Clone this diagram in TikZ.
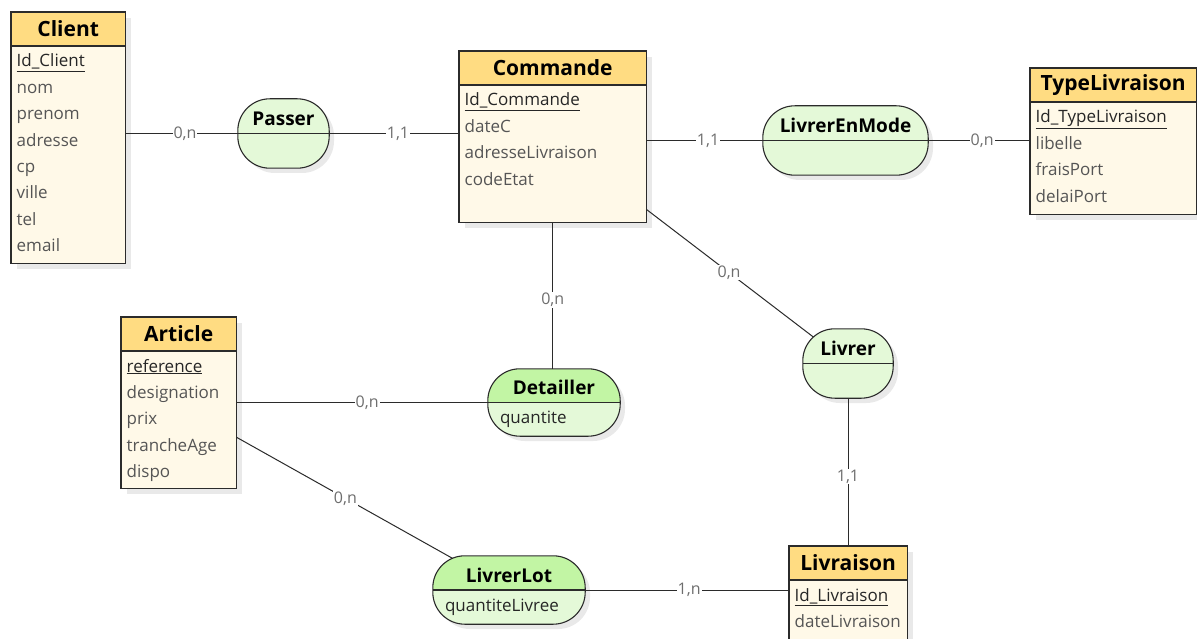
\documentclass[tikz,border=0pt]{standalone}
\usepackage{fontspec}
\setmainfont{Open Sans}
\usetikzlibrary{calc}
\pgfdeclarelayer{shd}\pgfdeclarelayer{lns}\pgfsetlayers{shd,lns,main}
\definecolor{hdr}{HTML}{FFDC82}
\definecolor{bodyc}{HTML}{FFF9E8}
\definecolor{brd}{HTML}{2B2B2B}
\definecolor{asbot}{HTML}{E4F9D8}
\definecolor{astop}{HTML}{C2F5A4}
\definecolor{shdc}{HTML}{E9E9E9}
\definecolor{attrc}{HTML}{555555}
\definecolor{cardc}{HTML}{6E6E6E}
\tikzset{
 entbox/.style={fill=bodyc, inner sep=0, anchor=north west},
 enttitle/.style={font=\fontsize{21}{25}\selectfont\bfseries, text=black, inner sep=0},
 attrtxt/.style={font=\fontsize{17}{20}\selectfont, text=attrc, inner sep=0, anchor=base west},
 keytxt/.style={font=\fontsize{17}{20}\selectfont, text=black!85, inner sep=0, anchor=base west},
 asbox/.style={fill=asbot, rounded corners=32pt, inner sep=0},
 astitle/.style={font=\fontsize{19}{23}\selectfont\bfseries, text=black, inner sep=0},
 link/.style={draw=brd, line width=1pt},
 card/.style={font=\fontsize{16}{18}\selectfont, text=cardc, fill=white, inner sep=1pt},
}
% #1 name, #2 x, #3 y, #4 w, #5 h, #6 title, #7 key, #8 attrs
\newcommand{\mkent}[8]{%
 \begin{pgfonlayer}{shd}\fill[shdc] (#2+6,#3+6) rectangle (#2+#4+6,#3+#5+6);\end{pgfonlayer}
 \node[entbox, minimum width=#4pt, minimum height=#5pt] (#1) at (#2,#3) {};
 \fill[hdr] (#1.north west) rectangle ([yshift=-34pt]#1.north east);
 \draw[brd, line width=1.1pt] ([yshift=-34pt]#1.north west) -- ([yshift=-34pt]#1.north east);
 \draw[brd, line width=1.2pt] (#1.north west) rectangle (#1.south east);
 \node[enttitle] (#1-title) at ([yshift=-17pt]#1.north) {#6};
 \node[keytxt] (#1-key) at ([xshift=5.5pt,yshift=-55pt]#1.north west) {\underline{#7}};
 \foreach \a [count=\i] in {#8} {
   \node[attrtxt] (#1-a\i) at ([xshift=5.5pt,yshift={-(81.4pt+(\i-1)*26.4pt)}]#1.north west) {\a};
 }
}
% #1 name, #2 cx, #3 cy, #4 w, #5 h, #6 title, #7 attr, #8 top colour
\newcommand{\mkassoc}[8]{%
 \begin{pgfonlayer}{shd}\fill[shdc, rounded corners=32pt] (#2-#4/2+5,#3-#5/2+5) rectangle (#2+#4/2+5,#3+#5/2+5);\end{pgfonlayer}
 \node[asbox, minimum width=#4pt, minimum height=#5pt] (#1) at (#2,#3) {};
 \begin{scope}
  \clip[rounded corners=32pt] (#1.north west) rectangle (#1.south east);
  \fill[#8] (#1.north west) rectangle (#1.east);
 \end{scope}
 \draw[brd, line width=1.1pt, rounded corners=32pt] (#1.north west) rectangle (#1.south east);
 \draw[brd, line width=1.1pt] (#1.west) -- (#1.east);
 \node[astitle] (#1-title) at ([yshift=15pt]#1.center) {#6};
 \node[attrtxt, text=black!85] (#1-attr) at ([xshift=12pt,yshift=-21pt]#1.west) {#7};
}
\begin{document}
\begin{tikzpicture}[x=1pt,y=-1pt]
\useasboundingbox (0,0) rectangle (1197,639);
\clip (0,0) rectangle (1197,639);
\begin{pgfonlayer}{shd}\fill[white] (0,0) rectangle (1197,639);\end{pgfonlayer}

\mkent{client}{11}{12}{114}{251}{Client}{Id\_Client}{nom,prenom,adresse,cp,ville,tel,email}
\mkent{commande}{459}{51}{187}{171}{Commande}{Id\_Commande}{dateC,adresseLivraison,codeEtat}
\mkent{typeliv}{1030}{68}{166}{146}{TypeLivraison}{Id\_TypeLivraison}{libelle,fraisPort,delaiPort}
\mkent{article}{121}{317}{115}{171}{Article}{reference}{designation,prix,trancheAge,dispo}
\mkent{livraison}{789}{546}{118}{110}{Livraison}{Id\_Livraison}{dateLivraison}

\mkassoc{passer}{283.5}{133.5}{91}{69}{Passer}{}{asbot}
\mkassoc{livrerenmode}{845.5}{140.5}{165}{69}{LivrerEnMode}{}{asbot}
\mkassoc{livrer}{848}{363.5}{90}{69}{Livrer}{}{asbot}
\mkassoc{detailler}{554}{402.5}{132}{67}{Detailler}{quantite}{astop}
\mkassoc{livrerlot}{509}{590}{152}{68}{LivrerLot}{quantiteLivree}{astop}

\begin{pgfonlayer}{lns}
\draw[link] (client.east |- passer) -- (passer.west);
\draw[link] (passer.east) -- (commande.west |- passer);
\draw[link] (commande.east |- livrerenmode) -- (livrerenmode.west);
\draw[link] (livrerenmode.east) -- (typeliv.west |- livrerenmode);
\draw[link] (commande.south) -- (commande.south |- detailler.north);
\draw[link] ([yshift=13pt]commande.south east) -- (livrer.center);
\draw[link] (livrer.south) -- (livrer.south |- livraison.north);
\draw[link] (article.east |- detailler) -- (detailler.west);
\draw[link] ([yshift=-34.5pt]article.east) -- (livrerlot.center);
\draw[link] (livrerlot.east) -- (livraison.west |- livrerlot);
\end{pgfonlayer}

\path (client.east |- passer) -- node[card, pos=0.53] (c1) {0,n} (passer.west);
\path (passer.east) -- node[card, pos=0.53] (c2) {1,1} (commande.west |- passer);
\path (commande.east |- livrerenmode) -- node[card, pos=0.53] (c3) {1,1} (livrerenmode.west);
\path (livrerenmode.east) -- node[card, pos=0.53] (c4) {0,n} (typeliv.west |- livrerenmode);
\path (commande.south) -- node[card, pos=0.53] (c5) {0,n} (commande.south |- detailler.north);
\path ([yshift=13pt]commande.south east) -- node[card, pos=0.41] (c6) {0,n} (livrer.center);
\path (livrer.south) -- node[card, pos=0.53] (c7) {1,1} (livrer.south |- livraison.north);
\path (article.east |- detailler) -- node[card, pos=0.52] (c8) {0,n} (detailler.west);
\path ([yshift=-34.5pt]article.east) -- node[card, pos=0.40] (c9) {0,n} (livrerlot.center);
\path (livrerlot.east) -- node[card, pos=0.51] (c10) {1,n} (livraison.west |- livrerlot);
\end{tikzpicture}
\end{document}
